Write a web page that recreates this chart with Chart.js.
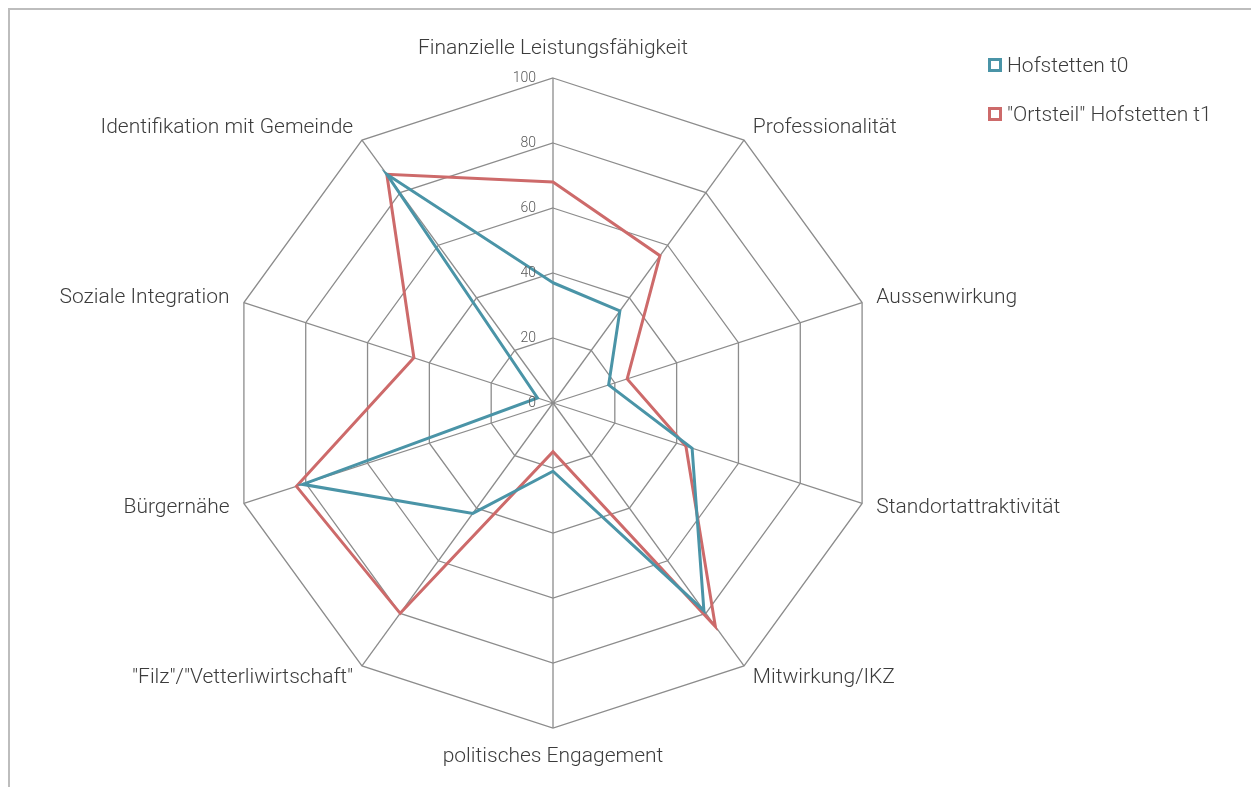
<!DOCTYPE html>
<html>
<head>
<meta charset="utf-8">
<title>Hofstetten Radar</title>
<script src="https://cdn.jsdelivr.net/npm/chart.js@4"></script>
<style>
  body { margin: 0; background: #fff; }
  #wrap { position: relative; width: 1251px; height: 787px; overflow: hidden; }
  #frame { position: absolute; left: 8px; top: 8px; width: 1300px; height: 900px;
           border-top: 2px solid #bdbdbd; border-left: 2px solid #bdbdbd; }
  #legend { position: absolute; left: 988px; top: 40px; font-family: Roboto, sans-serif;
            font-weight: 300; font-size: 21px; color: #3c3c3c; }
  .item { height: 49px; display: flex; align-items: center; }
  .box { width: 14px; height: 14px; box-sizing: border-box; border: 3px solid; margin-right: 5px; }
  canvas { position: absolute; left: 0; top: 0; }
</style>
</head>
<body>
<div id="wrap">
  <div id="frame"></div>
  <canvas id="radar"></canvas>
  <div id="legend"></div>
</div>
<script>
const categories = [
  'Finanzielle Leistungsfähigkeit',
  'Professionalität',
  'Aussenwirkung',
  'Standortattraktivität',
  'Mitwirkung/IKZ',
  'politisches Engagement',
  '"Filz"/"Vetterliwirtschaft"',
  'Bürgernähe',
  'Soziale Integration',
  'Identifikation mit Gemeinde'
];
const seriesNames = ['Hofstetten t0', '"Ortsteil" Hofstetten t1'];
const hofstettenT0 = [37, 35, 18, 45, 79, 21, 42, 81, 5, 87];
const ortsteilT1 = [68, 56, 24, 43, 85, 15, 80, 83, 45, 87];
const tickValues = [0, 20, 40, 60, 80, 100];
const seriesColors = ['#4A94A7', '#CD6A6A'];

// labels drawn the way Excel places them: centred on the spoke end
const radarText = {
  id: 'radarText',
  afterDraw(chart) {
    const r = chart.scales.r;
    const ctx = chart.ctx;
    const n = chart.data.labels.length;
    ctx.save();
    ctx.fillStyle = '#3c3c3c';
    ctx.font = '300 21px Roboto';
    ctx.textBaseline = 'middle';
    chart.data.labels.forEach((label, i) => {
      const angle = i * 360 / n;
      const vertical = angle === 0 || angle === 180;
      const p = r.getPointPosition(i, r.drawingArea + (vertical ? 29 : 15));
      ctx.textAlign = vertical ? 'center' : (angle < 180 ? 'left' : 'right');
      ctx.fillText(label, p.x, p.y);
    });
    ctx.font = '300 14px Roboto';
    ctx.fillStyle = '#595959';
    ctx.textAlign = 'right';
    r.ticks.forEach(t => {
      ctx.fillText(t.label, r.xCenter - 17, r.yCenter - r.getDistanceFromCenterForValue(t.value));
    });
    ctx.restore();
  }
};

const chart = new Chart(document.getElementById('radar'), {
  type: 'radar',
  data: {
    labels: categories,
    datasets: [
      { label: seriesNames[0], data: hofstettenT0 },
      { label: seriesNames[1], data: ortsteilT1 }
    ].map((d, i) => Object.assign(d, {
      borderColor: seriesColors[i],
      backgroundColor: seriesColors[i],
      borderWidth: 3,
      fill: false,
      pointRadius: 0,
      pointHoverRadius: 0,
      tension: 0
    }))
  },
  options: {
    responsive: true,
    maintainAspectRatio: false,
    animation: false,
    layout: { padding: { left: 228, right: 373, top: 78, bottom: 59 } },
    plugins: { legend: { display: false }, tooltip: { enabled: false } },
    scales: {
      r: {
        min: 0,
        max: 100,
        beginAtZero: true,
        afterBuildTicks: (s) => { s.ticks = tickValues.map(v => ({ value: v, label: String(v) })); },
        ticks: { display: false, stepSize: 20 },
        pointLabels: { display: false },
        grid: { color: '#8c8c8c', lineWidth: 1.3 },
        angleLines: { color: '#8c8c8c', lineWidth: 1.3 }
      }
    }
  },
  plugins: [radarText]
});

const legend = document.getElementById('legend');
chart.data.datasets.forEach(ds => {
  const item = document.createElement('div');
  item.className = 'item';
  const box = document.createElement('span');
  box.className = 'box';
  box.style.borderColor = ds.borderColor;
  item.appendChild(box);
  item.appendChild(document.createTextNode(ds.label));
  legend.appendChild(item);
});
</script>
</body>
</html>
